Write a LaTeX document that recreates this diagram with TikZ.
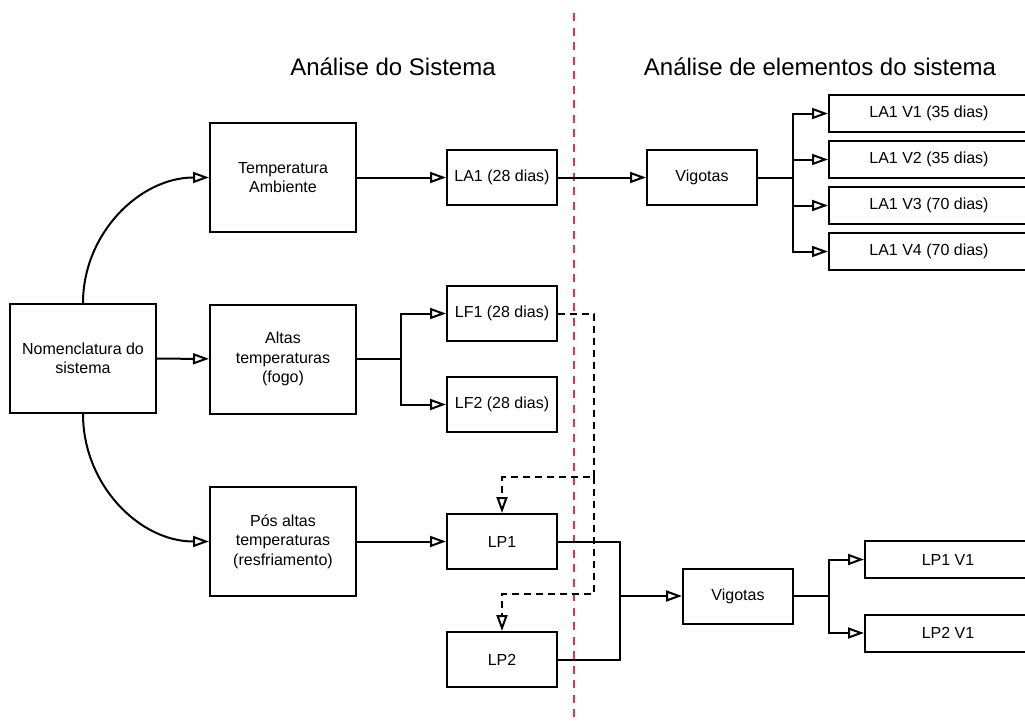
\documentclass[tikz,border=0pt]{standalone}
\usepackage{fontspec}
\setmainfont{Liberation Sans}
\usetikzlibrary{arrows.meta}
\definecolor{corte}{RGB}{228,52,68}

\begin{document}
\begin{tikzpicture}[x=1pt,y=-1pt,
		bloco/.style={draw, line width=2pt, align=center, inner sep=0pt, font=\fontsize{16}{19.5}\selectfont},
		grande/.style={bloco, minimum width=146pt, minimum height=109pt},
		medio/.style={bloco, minimum width=110pt, minimum height=55pt},
		folha/.style={bloco, minimum height=37pt},
		linha/.style={line width=2pt},
		seta/.style={linha, -{Triangle[open,length=16pt,width=11pt]}},
		tracejada/.style={seta, dash pattern=on 7pt off 5pt},
		titulo/.style={font=\fontsize{24}{28}\selectfont}]
				\useasboundingbox (0,0) rectangle (1025,720);
				% titulos e linha de corte
				\node[titulo] (t1) at (393,67) {Análise do Sistema};
				\node[titulo] (t2) at (820,67) {Análise de elementos do sistema};
				\coordinate (ctop) at (574,13);
				\coordinate (cbot) at (574,720);
				\draw[corte, line width=2pt, dash pattern=on 8pt off 6.5pt] (ctop) -- (cbot);
				% analise do sistema
				\node[grande] (nom) at (83,358.5) {Nomenclatura do\\sistema};
				\node[grande] (temp) at (283,177.5) {Temperatura\\Ambiente};
				\node[grande] (altas) at (283,359) {Altas\\temperaturas\\(fogo)};
				\node[grande] (pos) at (283,541.5) {Pós altas\\temperaturas\\(resfriamento)};
				\node[medio] (la1) at (502,177.5) {LA1 (28 dias)};
				\node[medio] (lf1) at (502,313.5) {LF1 (28 dias)};
				\node[medio] (lf2) at (502,404.5) {LF2 (28 dias)};
				\node[medio] (lp1) at (502,541.5) {LP1};
				\node[medio] (lp2) at (502,659.5) {LP2};
				% elementos
				\node[medio] (vig1) at (702,177.5) {Vigotas};
				\node[medio] (vig2) at (738,596) {Vigotas};
				\node[folha, minimum width=200pt] (la1v1) at (929,113.5) {LA1 V1 (35 dias)};
				\node[folha, minimum width=200pt] (la1v2) at (929,159.5) {LA1 V2 (35 dias)};
				\node[folha, minimum width=200pt] (la1v3) at (929,205.5) {LA1 V3 (70 dias)};
				\node[folha, minimum width=200pt] (la1v4) at (929,251.5) {LA1 V4 (70 dias)};
				\node[folha, minimum width=166pt] (lp1v1) at (948,559.5) {LP1 V1};
				\node[folha, minimum width=166pt] (lp2v1) at (948,633) {LP2 V1};
				% pontos de ramificacao
				\coordinate (r1) at (401,359);
				\coordinate (r2) at (793,177.5);
				\coordinate (r3) at (620,596);
				\coordinate (r4) at (829,596);
				\coordinate (d1) at (594,477);
				\coordinate (d2) at (594,594);
				% conexoes
				\draw[seta] (nom.north) to[out=90,in=180] (temp.west);
				\draw[seta] (nom) -- (altas);
				\draw[seta] (nom.south) to[out=-90,in=180] (pos.west);
				\draw[seta] (temp) -- (la1);
				\draw[seta] (la1) -- (vig1);
				\draw[linha] (altas) -- (r1);
				\draw[seta] (r1) |- (lf1);
				\draw[seta] (r1) |- (lf2);
				\draw[seta] (pos) -- (lp1);
				\draw[linha] (vig1) -- (r2);
				\draw[seta] (r2) |- (la1v1);
				\draw[seta] (r2) |- (la1v2);
				\draw[seta] (r2) |- (la1v3);
				\draw[seta] (r2) |- (la1v4);
				\draw[linha] (lp1) -| (r3);
				\draw[linha] (lp2) -| (r3);
				\draw[seta] (r3) -- (vig2);
				\draw[linha] (vig2) -- (r4);
				\draw[seta] (r4) |- (lp1v1);
				\draw[seta] (r4) |- (lp2v1);
				\draw[tracejada] (lf1) -| (d1) -| (lp1);
				\draw[tracejada] (d1) -- (d2) -| (lp2);
			\end{tikzpicture}
\end{document}
